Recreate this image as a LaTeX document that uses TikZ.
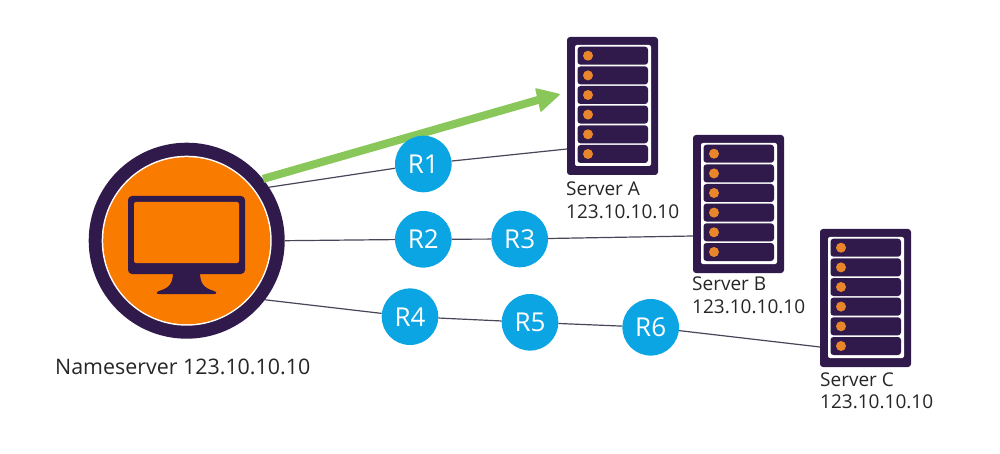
\documentclass[tikz,border=0pt]{standalone}
\usepackage{fontspec}
\setmainfont{Open Sans}
\definecolor{deep}{HTML}{2F1A4B}
\definecolor{orangeA}{HTML}{F97B00}
\definecolor{ledc}{HTML}{E9852B}
\definecolor{skyc}{HTML}{0BA5E3}
\definecolor{greenc}{HTML}{8AC75A}
\definecolor{linec}{HTML}{4A4458}
\tikzset{
  router/.style={circle,fill=skyc,minimum size=56.6pt,inner sep=0pt,text=white,font=\fontsize{26}{30}\selectfont},
  wire/.style={draw=linec,line width=1.2pt},
  caption/.style={align=left,anchor=north west,inner sep=0pt,text=black!85,font=\fontsize{19}{22.5}\selectfont},
  frame/.style={rectangle,rounded corners=3pt,fill=deep,minimum width=91pt,minimum height=138pt,inner sep=0pt},
}
\newcommand{\serverunit}[3]{%
  \node[frame] (#1) at (#2,#3) {};
  \begin{scope}[shift={(#2,#3)}]
    \fill[white,rounded corners=2pt] (-37.5,-61) rectangle (38.5,60);
    \foreach \r in {-50.3,-30.6,-11,8.6,28.3,48}{
      \fill[deep,rounded corners=3pt] (-35,\r-9) rectangle (35.5,\r+9);
      \fill[ledc] (-24.5,\r) circle (5);
    }
  \end{scope}
}
\begin{document}
\begin{tikzpicture}[x=1pt,y=-1pt]
\useasboundingbox (0,0) rectangle (1000,454);
% Nameserver
\node[circle,fill=deep,minimum size=196pt,inner sep=0pt] (ns) at (186.7,240.7) {};
\fill[white] (ns.center) circle (85);
\fill[orangeA] (ns.center) circle (83.5);
\fill[deep,rounded corners=4pt] (128,196) rectangle (245,274);
\fill[orangeA,rounded corners=2pt] (134,202) rectangle (239,263);
\fill[deep] (173,272) -- (200,272) .. controls (200,284) and (204,288) .. (214,291)
  .. controls (217,292) and (217,294) .. (214,294) -- (159,294)
  .. controls (156,294) and (156,292) .. (159,291) .. controls (169,288) and (173,284) .. (173,272) -- cycle;
% Servers
\serverunit{sa}{612.5}{106}
\serverunit{sb}{738.5}{204}
\serverunit{sc}{865.5}{298}
\coordinate (sainA) at (567,149);
\coordinate (sbin) at (693,236);
\coordinate (scin) at (820,347);
% Green arrow
\coordinate (gtip) at (559,94.5);
\coordinate (gneck) at (538,100);
\draw[greenc,line width=8pt] (ns.39) -- (gneck);
\filldraw[greenc,line width=1.5pt,line join=round] (gtip) -- (536,89) -- (541,111) -- cycle;
% Routers
\node[router] (r1) at (423.3,164) {R1};
\node[router] (r2) at (423.3,239.3) {R2};
\node[router] (r3) at (519.7,239) {R3};
\node[router] (r4) at (410,316.7) {R4};
\node[router] (r5) at (530,322.3) {R5};
\node[router] (r6) at (650.7,327.3) {R6};
% Connectors
\draw[wire] (ns.33) -- (r1);
\draw[wire] (r1) -- (sainA);
\draw[wire] (ns.east) -- (r2);
\draw[wire] (r2) -- (r3);
\draw[wire] (r3) -- (sbin);
\draw[wire] (ns.-37) -- (r4);
\draw[wire] (r4) -- (r5);
\draw[wire] (r5) -- (r6);
\draw[wire] (r6) -- (scin);
% Labels
\node[caption,anchor=west,font=\fontsize{21.4}{25}\selectfont] (nslabel) at (55,367) {Nameserver 123.10.10.10};
\node[caption] (salabel) at (566,182) {Server A\\123.10.10.10};
\node[caption] (sblabel) at (692,277) {Server B\\123.10.10.10};
\node[caption] (sclabel) at (820,372.5) {Server C\\123.10.10.10};
\end{tikzpicture}
\end{document}
